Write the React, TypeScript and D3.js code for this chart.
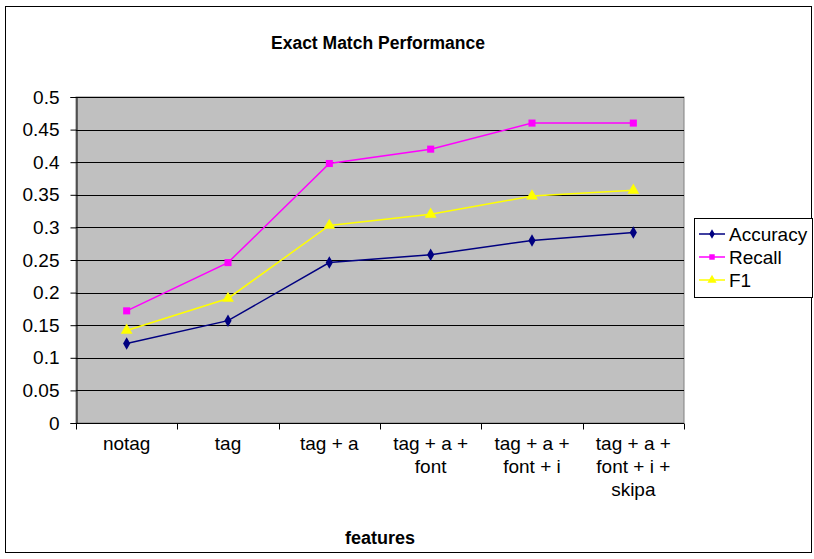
import React, { useEffect, useRef } from "react";
import * as d3 from "d3";

const categories = [
  ["notag"],
  ["tag"],
  ["tag + a"],
  ["tag + a +", "font"],
  ["tag + a +", "font + i"],
  ["tag + a +", "font + i +", "skipa"],
];
const accuracy = [0.122, 0.157, 0.246, 0.258, 0.28, 0.292];
const recall = [0.172, 0.246, 0.398, 0.42, 0.46, 0.46];
const f1 = [0.142, 0.191, 0.303, 0.32, 0.348, 0.357];
const yTicks = [0, 0.05, 0.1, 0.15, 0.2, 0.25, 0.3, 0.35, 0.4, 0.45, 0.5];
const seriesNames = ["Accuracy", "Recall", "F1"];
const seriesColors = ["#000080", "#FF00FF", "#FFFF00"];
const seriesSymbols = [d3.symbolDiamond, d3.symbolSquare, d3.symbolTriangle];

export default function App() {
  const ref = useRef<SVGSVGElement>(null);
  useEffect(() => {
    document.body.style.margin = "0";
    const svg = d3.select(ref.current);
    svg.selectAll("*").remove();
    const W = 814, H = 559;
    const L = 76, R = 684, T = 97, B = 423;
    const font = "'Liberation Sans', Arial, sans-serif";
    const fs = 19;

    svg.append("rect").attr("x", 0).attr("y", 0).attr("width", W).attr("height", H).attr("fill", "#fff");
    svg.append("rect").attr("x", 5.5).attr("y", 6.5).attr("width", 806).attr("height", 546)
      .attr("fill", "none").attr("stroke", "#000").attr("stroke-width", 1);

    const x = d3.scaleBand().domain(categories.map((_, i) => String(i))).range([L, R]).padding(0);
    const y = d3.scaleLinear().domain([0, 0.5]).range([B, T]);

    svg.append("rect").attr("x", L).attr("y", T).attr("width", R - L).attr("height", B - T)
      .attr("fill", "#C0C0C0").attr("stroke", "#808080").attr("stroke-width", 1);

    svg.append("g").selectAll("line").data(yTicks.filter(t => t > 0)).join("line")
      .attr("x1", L).attr("x2", R)
      .attr("y1", d => Math.round(y(d)) + 0.5).attr("y2", d => Math.round(y(d)) + 0.5)
      .attr("stroke", "#000").attr("stroke-width", 1);

    const yAxis = svg.append("g").attr("transform", `translate(${L + 0.5},0)`)
      .call(d3.axisLeft(y).tickValues(yTicks).tickSize(6).tickFormat(d => String(d)));
    yAxis.select(".domain").attr("stroke", "#000");
    yAxis.selectAll("text").attr("font-family", font).attr("font-size", fs).attr("fill", "#000").attr("dx", "-8");

    const xAxisG = svg.append("g").attr("transform", `translate(0,${B + 0.5})`);
    xAxisG.append("line").attr("x1", L).attr("x2", R).attr("stroke", "#000");
    const tickXs = categories.map((_, i) => x(String(i))!).concat([R]);
    xAxisG.selectAll("line.tk").data(tickXs).join("line").attr("class", "tk")
      .attr("x1", d => Math.round(d) + 0.5).attr("x2", d => Math.round(d) + 0.5)
      .attr("y1", 0).attr("y2", 6).attr("stroke", "#000");

    categories.forEach((lines, i) => {
      const cx = x(String(i))! + x.bandwidth() / 2;
      const t = svg.append("text").attr("x", cx).attr("y", 450)
        .attr("text-anchor", "middle").attr("font-family", font).attr("font-size", fs);
      lines.forEach((ln, j) => {
        t.append("tspan").attr("x", cx).attr("dy", j === 0 ? 0 : 23).text(ln);
      });
    });

    svg.append("text").attr("x", 378).attr("y", 49).attr("text-anchor", "middle")
      .attr("font-family", font).attr("font-size", 17.5).attr("font-weight", "bold").text("Exact Match Performance");
    svg.append("text").attr("x", 380).attr("y", 544).attr("text-anchor", "middle")
      .attr("font-family", font).attr("font-size", 18).attr("font-weight", "bold").text("features");

    const allSeries = [accuracy, recall, f1];
    const sizes = [45, 50, 60];
    allSeries.forEach((vals, si) => {
      const line = d3.line<number>().x((_, i) => x(String(i))! + x.bandwidth() / 2).y(d => y(d));
      svg.append("path").attr("d", line(vals)).attr("fill", "none")
        .attr("stroke", seriesColors[si]).attr("stroke-width", 1.5);
      svg.append("g").selectAll("path").data(vals).join("path")
        .attr("transform", (d, i) => `translate(${x(String(i))! + x.bandwidth() / 2},${y(d)})`)
        .attr("d", d3.symbol().type(seriesSymbols[si]).size(sizes[si])())
        .attr("fill", seriesColors[si]);
    });

    const lg = svg.append("g");
    lg.append("rect").attr("x", 694.5).attr("y", 218.5).attr("width", 118).attr("height", 79)
      .attr("fill", "#fff").attr("stroke", "#000");
    seriesNames.forEach((name, i) => {
      const cy = 234 + i * 23;
      lg.append("line").attr("x1", 699).attr("x2", 725).attr("y1", cy).attr("y2", cy)
        .attr("stroke", seriesColors[i]).attr("stroke-width", 1.5);
      lg.append("path").attr("transform", `translate(712,${cy})`)
        .attr("d", d3.symbol().type(seriesSymbols[i]).size(sizes[i] * 0.6)()).attr("fill", seriesColors[i]);
      lg.append("text").attr("x", 729).attr("y", cy + 7).attr("font-family", font)
        .attr("font-size", fs).text(name);
    });
  }, []);
  return <svg ref={ref} width={814} height={559} style={{ display: "block" }} />;
}
